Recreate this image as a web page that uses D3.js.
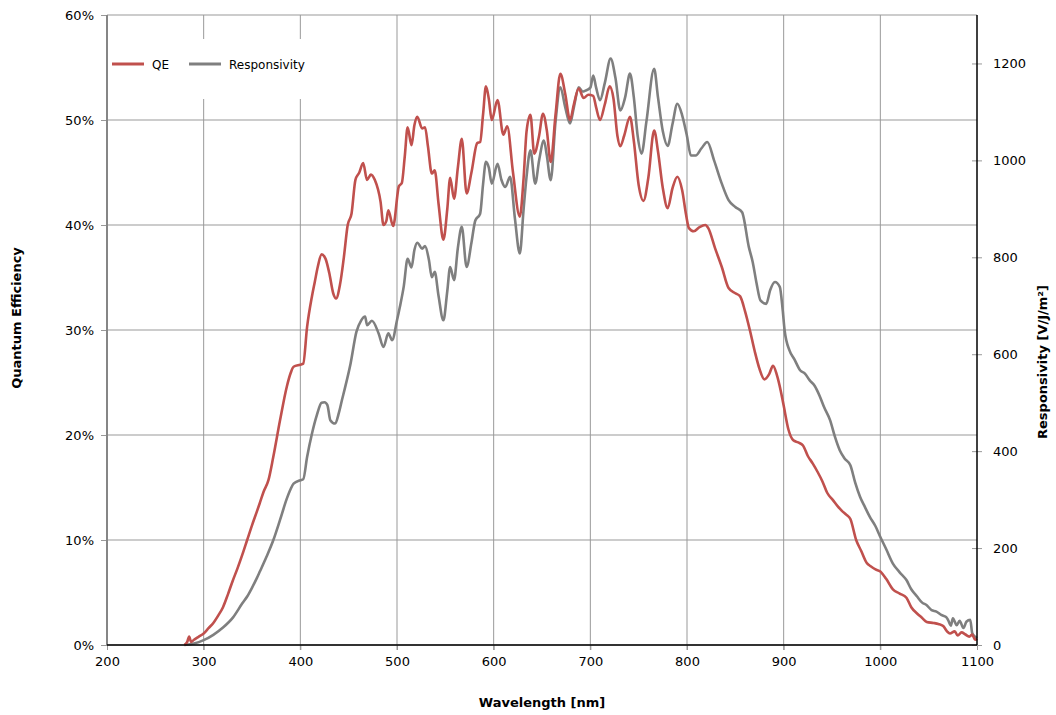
<!DOCTYPE html>
<html>
<head>
<meta charset="utf-8">
<script src="https://cdn.jsdelivr.net/npm/d3@7"></script>
<style>
  body { margin: 0; background: #fff; }
  svg text { font-family: Verdana, "DejaVu Sans", sans-serif; fill: #000; }
</style>
</head>
<body>
<svg id="chart" width="1056" height="715"></svg>
<script>
// wavelength ticks and axis ticks
let wlTicks = [200, 300, 400, 500, 600, 700, 800, 900, 1000, 1100];
let qeTicks = [0, 10, 20, 30, 40, 50, 60];
let respTicks = [0, 200, 400, 600, 800, 1000, 1200];

// QE series (wavelength nm, percent)
let qeWl = [280, 283, 285, 287, 290, 295, 300, 305, 310, 315, 320, 325, 330, 335, 340, 345, 350, 355, 358, 362,
  367, 372, 379, 386, 390, 393, 400, 403, 407, 412, 415, 418, 422, 426, 430, 434, 437, 441, 445, 449,
  453, 457, 461, 465, 469, 473, 477, 483, 486, 489, 491, 496, 502, 505, 508, 511, 515, 518, 521, 526,
  529, 532, 536, 539, 543, 548, 552, 555, 559, 563, 567, 572, 577, 583, 586, 589, 592, 595, 598, 604,
  610, 614, 620, 627, 631, 634, 638, 642, 647, 651, 655, 659, 664, 669, 674, 679, 683, 688, 693, 698,
  703, 706, 710, 715, 720, 724, 728, 731, 735, 741, 745, 750, 755, 760, 766, 770, 775, 780, 785, 790,
  795, 799, 802, 807, 813, 819, 822, 829, 836, 843, 850, 855, 860, 865, 870, 875, 880, 885, 889, 893,
  897, 900, 905, 910, 915, 920, 925, 930, 935, 940, 945, 951, 956, 960, 965, 969, 975, 980, 986, 990,
  995, 1000, 1006, 1013, 1020, 1027, 1032, 1038, 1043, 1048, 1055, 1060, 1065, 1069, 1072, 1077, 1080, 1084, 1088, 1092,
  1095, 1098, 1100];
let qeVal = [0, 0.3, 0.8, 0.3, 0.5, 0.8, 1.1, 1.6, 2.1, 2.8, 3.6, 4.8, 6.1, 7.3, 8.6, 10.0, 11.4, 12.7, 13.5, 14.6,
  15.7, 17.9, 21.4, 24.6, 25.9, 26.5, 26.7, 26.8, 30.3, 33.2, 34.6, 36.0, 37.2, 36.8, 35.4, 33.5, 33.0, 34.3, 36.9, 40.0,
  41.1, 44.3, 45.0, 45.9, 44.3, 44.8, 44.3, 42.2, 40.0, 40.4, 41.4, 39.9, 43.7, 44.0, 46.5, 49.3, 47.6, 49.5, 50.3, 49.2,
  49.3, 47.5, 44.9, 45.2, 42.0, 38.6, 41.5, 44.5, 42.5, 45.5, 48.2, 43.0, 45.0, 47.8, 47.9, 50.5, 53.2, 52.0, 50.0, 51.9,
  48.6, 49.4, 45.0, 40.8, 44.5, 48.9, 50.5, 46.8, 48.5, 50.6, 49.0, 46.0, 50.5, 54.4, 52.5, 50.0, 51.5, 53.0, 52.1, 52.4,
  52.3, 51.2, 50.0, 51.5, 53.2, 52.0, 48.5, 47.5, 48.5, 50.3, 48.0, 43.8, 42.3, 44.5, 49.0, 47.0, 43.5, 41.6, 43.5, 44.6,
  43.3, 41.0, 39.7, 39.4, 39.8, 40.0, 39.7, 37.8, 36.0, 34.0, 33.5, 33.2, 31.8, 30.0, 28.0, 26.3, 25.3, 25.8, 26.6, 25.7,
  24.2, 22.8, 20.5, 19.5, 19.3, 19.0, 18.0, 17.3, 16.5, 15.6, 14.5, 13.8, 13.2, 12.8, 12.4, 12.0, 10.0, 9.0, 7.8, 7.5,
  7.2, 7.0, 6.3, 5.3, 4.9, 4.5, 3.6, 3.0, 2.6, 2.2, 2.1, 2.0, 1.8, 1.3, 1.1, 1.3, 0.9, 1.2, 1.0, 0.8,
  1.0, 0.5, 0.6];

// Responsivity series (wavelength nm, V/J/m²)
let respWl = [280, 290, 300, 310, 320, 330, 340, 345, 350, 355, 358, 365, 372, 379, 386, 390, 393, 400, 403, 407,
  412, 417, 422, 425, 428, 431, 436, 440, 443, 446, 452, 458, 463, 467, 469, 474, 481, 486, 491, 495,
  500, 503, 507, 511, 515, 518, 521, 526, 529, 533, 536, 539, 543, 548, 552, 555, 559, 563, 567, 572,
  577, 581, 586, 589, 592, 595, 598, 604, 608, 612, 617, 622, 627, 631, 634, 638, 643, 647, 652, 655,
  659, 664, 669, 674, 679, 683, 688, 692, 695, 700, 703, 706, 710, 715, 721, 726, 731, 736, 741, 745,
  749, 753, 758, 766, 770, 775, 780, 785, 790, 795, 800, 804, 809, 815, 821, 828, 836, 843, 850, 857,
  864, 868, 872, 876, 882, 886, 891, 896, 899, 901, 906, 911, 917, 922, 927, 932, 937, 942, 948, 953,
  958, 963, 969, 974, 979, 984, 989, 995, 1000, 1006, 1013, 1020, 1027, 1032, 1038, 1043, 1048, 1053, 1058, 1063,
  1068, 1070, 1073, 1075, 1079, 1082, 1086, 1089, 1093, 1095, 1098, 1100];
let respVal = [0, 3, 10, 21, 36, 56, 86, 100, 118, 138, 151, 182, 216, 258, 302, 322, 333, 340, 342, 388,
  436, 474, 500, 501, 495, 464, 457, 480, 505, 529, 581, 646, 670, 678, 660, 669, 643, 615, 643, 629,
  670, 698, 740, 797, 779, 815, 830, 818, 823, 795, 759, 770, 720, 670, 730, 780, 753, 820, 863, 780,
  830, 876, 890, 950, 997, 985, 952, 993, 960, 945, 966, 880, 808, 900, 966, 1021, 952, 1000, 1041, 1010,
  959, 1080, 1151, 1110, 1076, 1110, 1151, 1142, 1144, 1150, 1175, 1150, 1124, 1160, 1210, 1170, 1103, 1130, 1179, 1130,
  1050, 1014, 1080, 1189, 1130, 1060, 1030, 1075, 1117, 1093, 1050, 1010, 1010, 1025, 1038, 1000, 952, 918, 904, 893,
  821, 790, 746, 711, 704, 732, 749, 739, 691, 649, 608, 590, 567, 560, 546, 535, 515, 490, 464, 430,
  402, 385, 371, 335, 306, 285, 265, 245, 223, 198, 168, 150, 134, 115, 100, 88, 82, 72, 69, 62,
  58, 52, 40, 55, 41, 50, 35, 48, 52, 25, 17, 14];

let svg = d3.select("#chart");
let margin = { left: 107, right: 79, top: 15, bottom: 70 };
let width = 1056 - margin.left - margin.right;
let height = 715 - margin.top - margin.bottom;

let x = d3.scaleLinear().domain([200, 1100]).range([0, width]);
let yQE = d3.scaleLinear().domain([0, 60]).range([height, 0]);
let yResp = d3.scaleLinear().domain([0, 1300]).range([height, 0]);

let g = svg.append("g")
  .attr("transform", "translate(" + margin.left + "," + margin.top + ")");

// gridlines
g.selectAll("line.hgrid")
  .data(qeTicks)
  .enter().append("line")
  .attr("class", "hgrid")
  .attr("x1", 0).attr("x2", width)
  .attr("y1", d => yQE(d)).attr("y2", d => yQE(d))
  .style("stroke", "#999")
  .style("stroke-width", 1);

g.selectAll("line.vgrid")
  .data(wlTicks.slice(1, -1))
  .enter().append("line")
  .attr("class", "vgrid")
  .attr("x1", d => x(d)).attr("x2", d => x(d))
  .attr("y1", 0).attr("y2", height + 5)
  .style("stroke", "#999")
  .style("stroke-width", 1);

// white box behind legend hides the grid
g.append("rect")
  .attr("x", 1).attr("y", 24)
  .attr("width", 212).attr("height", 60)
  .style("fill", "#fff");

// axes
let xAxis = d3.axisBottom(x).tickValues(wlTicks).tickSize(5).tickPadding(7)
  .tickFormat(d3.format("d"));
let leftAxis = d3.axisLeft(yQE).tickValues(qeTicks).tickSize(6).tickPadding(7)
  .tickFormat(d => d + "%");
let rightAxis = d3.axisRight(yResp).tickValues(respTicks).tickSize(5).tickPadding(11)
  .tickFormat(d3.format("d"));

function styleAxis(sel)
{
  sel.select(".domain").remove();
  sel.selectAll(".tick line").style("stroke", "#999");
  sel.selectAll(".tick text")
    .style("font-size", "13px")
    .style("font-family", "Verdana, 'DejaVu Sans', sans-serif")
    .style("fill", "#000");
}

g.append("g")
  .attr("transform", "translate(0," + height + ")")
  .call(xAxis)
  .call(styleAxis);

g.append("g")
  .call(leftAxis)
  .call(styleAxis);

let ra = g.append("g")
  .attr("transform", "translate(" + width + ",0)")
  .call(rightAxis)
  .call(styleAxis);
// right ticks cross the axis
ra.selectAll(".tick line").attr("x1", -5);

// lines
let qeLine = d3.line()
  .x(d => x(d[0]))
  .y(d => yQE(d[1]))
  .curve(d3.curveMonotoneX);
let respLine = d3.line()
  .x(d => x(d[0]))
  .y(d => yResp(d[1]))
  .curve(d3.curveMonotoneX);

g.append("path")
  .attr("d", respLine(d3.zip(respWl, respVal)))
  .style("fill", "none")
  .style("stroke", "#7f7f7f")
  .style("stroke-width", 2.6)
  .style("stroke-linejoin", "round");

g.append("path")
  .attr("d", qeLine(d3.zip(qeWl, qeVal)))
  .style("fill", "none")
  .style("stroke", "#c0504d")
  .style("stroke-width", 2.6)
  .style("stroke-linejoin", "round");

// axis lines drawn on top
g.append("line")
  .attr("x1", 0).attr("x2", 0).attr("y1", 0).attr("y2", height)
  .style("stroke", "#868686").style("stroke-width", 2);
g.append("line")
  .attr("x1", 0).attr("x2", width).attr("y1", height).attr("y2", height)
  .style("stroke", "#000").style("stroke-width", 1.5);
g.append("line")
  .attr("x1", width).attr("x2", width).attr("y1", 0).attr("y2", height)
  .style("stroke", "#000").style("stroke-width", 1.5);

// legend
let legend = [
  { name: "QE", color: "#c0504d", x: 5, tx: 45 },
  { name: "Responsivity", color: "#7f7f7f", x: 82, tx: 122 }
];
legend.forEach(function (d)
{
  g.append("line")
    .attr("x1", d.x).attr("x2", d.x + 32)
    .attr("y1", 49).attr("y2", 49)
    .style("stroke", d.color)
    .style("stroke-width", 3);
  g.append("text")
    .attr("x", d.tx).attr("y", 53.5)
    .style("font-size", "12px")
    .text(d.name);
});

// axis titles
svg.append("text")
  .attr("x", margin.left + width / 2)
  .attr("y", 707)
  .attr("text-anchor", "middle")
  .style("font-size", "13px")
  .style("font-weight", "bold")
  .text("Wavelength [nm]");

svg.append("text")
  .attr("transform", "translate(21,318) rotate(-90)")
  .attr("text-anchor", "middle")
  .style("font-size", "13px")
  .style("font-weight", "bold")
  .text("Quantum Efficiency");

svg.append("text")
  .attr("transform", "translate(1047,362) rotate(-90)")
  .attr("text-anchor", "middle")
  .style("font-size", "13px")
  .style("font-weight", "bold")
  .text("Responsivity [V/J/m²]");
</script>
</body>
</html>
